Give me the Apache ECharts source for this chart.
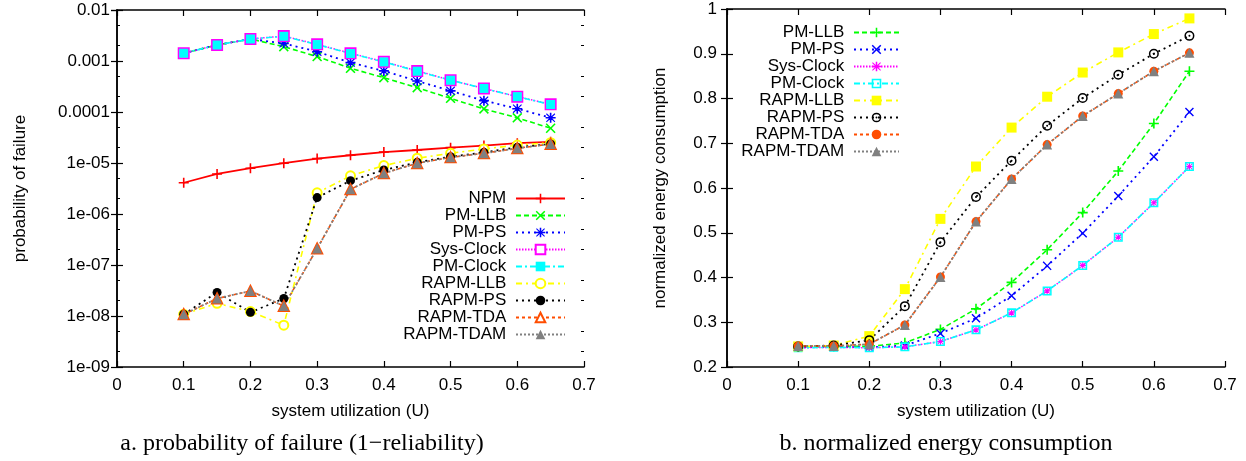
<!DOCTYPE html>
<html><head><meta charset="utf-8">
<script src="https://cdn.jsdelivr.net/npm/echarts@6/dist/echarts.min.js"></script>
<style>html,body{margin:0;padding:0;background:#fff}#c{width:1246px;height:461px}</style>
</head><body><div id="c"></div>
<script>
// ---------- data ----------
const util = [0.1, 0.15, 0.2, 0.25, 0.3, 0.35, 0.4, 0.45, 0.5, 0.55, 0.6, 0.65];
const xTickLabels = ['0', '0.1', '0.2', '0.3', '0.4', '0.5', '0.6', '0.7'];
const failTickLabels = ['1e-09', '1e-08', '1e-07', '1e-06', '1e-05', '0.0001', '0.001', '0.01'];
const energyTickLabels = ['0.2', '0.3', '0.4', '0.5', '0.6', '0.7', '0.8', '0.9', '1'];

// a. probability of failure
const failNPM      = [4.1e-6, 6.1e-6, 7.9e-6, 9.9e-6, 1.22e-5, 1.42e-5, 1.64e-5, 1.8e-5, 2.0e-5, 2.2e-5, 2.45e-5, 2.6e-5];
const failPMLLB    = [1.42e-3, 2.06e-3, 2.7e-3, 1.91e-3, 1.22e-3, 7.2e-4, 4.7e-4, 3.0e-4, 1.85e-4, 1.15e-4, 7.7e-5, 4.8e-5];
const failPMPS     = [1.42e-3, 2.06e-3, 2.7e-3, 2.22e-3, 1.52e-3, 9.3e-4, 6.4e-4, 4.06e-4, 2.6e-4, 1.67e-4, 1.16e-4, 7.7e-5];
const failSysClock = [1.42e-3, 2.06e-3, 2.7e-3, 3.09e-3, 2.12e-3, 1.42e-3, 9.7e-4, 6.4e-4, 4.2e-4, 2.9e-4, 2.0e-4, 1.42e-4];
const failPMClock  = [1.42e-3, 2.06e-3, 2.7e-3, 3.05e-3, 2.1e-3, 1.4e-3, 9.6e-4, 6.3e-4, 4.2e-4, 2.9e-4, 2.0e-4, 1.4e-4];
const failRAPMLLB  = [1.08e-8, 1.77e-8, 1.22e-8, 6.6e-9, 2.6e-6, 5.6e-6, 8.9e-6, 1.24e-5, 1.55e-5, 1.88e-5, 2.25e-5, 2.5e-5];
const failRAPMPS   = [1.08e-8, 2.9e-8, 1.18e-8, 2.2e-8, 2.1e-6, 4.5e-6, 7.3e-6, 1.03e-5, 1.33e-5, 1.62e-5, 2.03e-5, 2.36e-5];
const failRAPMTDA  = [1.08e-8, 2.2e-8, 3.1e-8, 1.57e-8, 2.1e-7, 3.05e-6, 6.3e-6, 9.9e-6, 1.29e-5, 1.55e-5, 1.94e-5, 2.36e-5];
const failRAPMTDAM = [1.08e-8, 2.2e-8, 3.1e-8, 1.57e-8, 2.1e-7, 3.05e-6, 6.3e-6, 9.9e-6, 1.29e-5, 1.55e-5, 1.94e-5, 2.36e-5];

// b. normalized energy consumption
const enPMLLB    = [0.245, 0.246, 0.246, 0.254, 0.284, 0.330, 0.389, 0.462, 0.545, 0.638, 0.744, 0.861];
const enPMPS     = [0.244, 0.245, 0.244, 0.248, 0.275, 0.309, 0.359, 0.426, 0.499, 0.582, 0.670, 0.770];
const enSysClock = [0.243, 0.244, 0.243, 0.245, 0.257, 0.283, 0.321, 0.370, 0.427, 0.490, 0.567, 0.648];
const enPMClock  = [0.243, 0.244, 0.243, 0.245, 0.257, 0.283, 0.321, 0.370, 0.427, 0.490, 0.567, 0.648];
const enRAPMLLB  = [0.246, 0.248, 0.269, 0.374, 0.531, 0.648, 0.735, 0.804, 0.858, 0.903, 0.944, 0.979];
const enRAPMPS   = [0.246, 0.248, 0.260, 0.336, 0.479, 0.580, 0.661, 0.739, 0.801, 0.853, 0.900, 0.940];
const enRAPMTDA  = [0.247, 0.247, 0.251, 0.294, 0.401, 0.525, 0.620, 0.697, 0.761, 0.811, 0.861, 0.902];
const enRAPMTDAM = [0.247, 0.247, 0.251, 0.294, 0.401, 0.525, 0.620, 0.697, 0.761, 0.811, 0.861, 0.902];

// ---------- styling ----------
const FONT = 'Liberation Sans';
const FS = 17;
const ZW = '\u200b'; // suffix to keep right-chart series distinct
const PLUS = 'path://M4.2,0H5.8V4.2H10V5.8H5.8V10H4.2V5.8H0V4.2H4.2Z';
const CROSS = 'path://M1.1,0L5,3.9L8.9,0L10,1.1L6.1,5L10,8.9L8.9,10L5,6.1L1.1,10L0,8.9L3.9,5L0,1.1Z';
const STAR = 'path://M4.2,0H5.8V4.2H10V5.8H5.8V10H4.2V5.8H0V4.2H4.2Z M1.1,0.5L5,4.2L8.9,0.5L9.6,1.4L6.0,5L9.6,8.6L8.9,9.5L5,5.8L1.1,9.5L0.4,8.6L4,5L0.4,1.4Z';
const RING = 'path://M0,5A5,5 0 1,1 10,5A5,5 0 1,1 0,5Z M1.5,5A3.5,3.5 0 1,0 8.5,5A3.5,3.5 0 1,0 1.5,5Z M4,5A1,1 0 1,1 6,5A1,1 0 1,1 4,5Z';
const HOLLOWSQ = 'path://M0,0H10V10H0Z M1.7,1.7V8.3H8.3V1.7Z';

function mk(name, vals, gi, color, dash, width, symbol, size, empty) {
  return {
    type: 'line', name: name, xAxisIndex: gi * 2, yAxisIndex: gi === 0 ? 0 : 4,
    data: util.map((u, i) => [u, vals[i]]),
    symbol: symbol, symbolSize: size, showSymbol: true, showAllSymbol: true,
    lineStyle: { color: color, width: width, type: dash },
    itemStyle: empty ? { color: color, borderColor: color, borderWidth: 1.5 } : { color: color, borderWidth: 0 },
    emphasis: { disabled: true }, silent: true, animation: false
  };
}

const RED = '#ff0000', GREEN = '#00ff00', BLUE = '#0000ff', MAG = '#ff00ff', CYAN = '#00ffff',
      YEL = '#ffff00', BLK = '#000000', ORG = '#ff4d00', GRY = '#808080';
const D_LLB = [5, 3], D_PS = [2, 4], D_SYS = [1.5, 1.5], D_CLK = [6, 3, 2, 3], D_RLLB = [6, 4, 2, 4],
      D_RPS = [2, 4], D_TDA = [3, 3], D_TDAM = [2, 2];

const leftSeries = [
  mk('NPM', failNPM, 0, RED, 'solid', 1.8, PLUS, 10, false),
  mk('PM-LLB', failPMLLB, 0, GREEN, D_LLB, 1.6, CROSS, 10, false),
  mk('PM-PS', failPMPS, 0, BLUE, D_PS, 1.8, STAR, 10, false),
  mk('Sys-Clock', failSysClock, 0, MAG, D_SYS, 1.5, 'emptyRect', 10, true),
  mk('PM-Clock', failPMClock, 0, CYAN, D_CLK, 1.6, 'rect', 9, false),
  mk('RAPM-LLB', failRAPMLLB, 0, YEL, D_RLLB, 1.6, 'emptyCircle', 9, true),
  mk('RAPM-PS', failRAPMPS, 0, BLK, D_RPS, 1.8, 'circle', 9, false),
  mk('RAPM-TDA', failRAPMTDA, 0, ORG, D_TDA, 1.6, 'emptyTriangle', 10, true),
  mk('RAPM-TDAM', failRAPMTDAM, 0, GRY, D_TDAM, 1.8, 'triangle', 10, false)
];
const rightSeries = [
  mk('PM-LLB' + ZW, enPMLLB, 1, GREEN, D_LLB, 1.6, PLUS, 10, false),
  mk('PM-PS' + ZW, enPMPS, 1, BLUE, D_PS, 1.8, CROSS, 9, false),
  mk('Sys-Clock' + ZW, enSysClock, 1, MAG, D_SYS, 1.5, STAR, 7, false),
  mk('PM-Clock' + ZW, enPMClock, 1, CYAN, D_CLK, 1.6, HOLLOWSQ, 9, false),
  mk('RAPM-LLB' + ZW, enRAPMLLB, 1, YEL, D_RLLB, 1.6, 'rect', 10, false),
  mk('RAPM-PS' + ZW, enRAPMPS, 1, BLK, D_RPS, 1.8, RING, 10, false),
  mk('RAPM-TDA' + ZW, enRAPMTDA, 1, ORG, D_TDA, 1.6, 'circle', 9, false),
  mk('RAPM-TDAM' + ZW, enRAPMTDAM, 1, GRY, D_TDAM, 1.8, 'triangle', 10, false)
];

const axisLine = { show: true, lineStyle: { color: '#000', width: 1.5 } };
const lbl = { color: '#000', fontFamily: FONT, fontSize: FS };

function xAx(gi, pos) {
  return {
    type: 'value', gridIndex: gi, position: pos, min: 0, max: 0.7, interval: 0.1,
    axisLine: axisLine, axisTick: { show: true, inside: true, length: 6, lineStyle: { color: '#000', width: 1.2 } },
    splitLine: { show: false },
    axisLabel: pos === 'bottom' ? Object.assign({ margin: 10, formatter: v => xTickLabels[Math.round(v * 10)] }, lbl) : { show: false },
    name: pos === 'bottom' ? 'system utilization (U)' : '', nameLocation: 'middle', nameGap: 36,
    nameTextStyle: lbl
  };
}

const minorLog = [];
for (let k = -9; k < -2; k++) { [2, 5].forEach(m => minorLog.push(k + Math.log10(m))); }

const option = {
  backgroundColor: '#fff',
  animation: false,
  grid: [
    { left: 117, top: 10, width: 467, height: 357, containLabel: false },
    { left: 727, top: 9, width: 498, height: 358, containLabel: false }
  ],
  xAxis: [xAx(0, 'bottom'), xAx(0, 'top'), xAx(1, 'bottom'), xAx(1, 'top')],
  yAxis: [
    { type: 'log', logBase: 10, gridIndex: 0, position: 'left', min: 1e-9, max: 0.01, splitNumber: 7,
      axisLine: axisLine, splitLine: { show: false },
      axisTick: { show: true, inside: true, length: 6, lineStyle: { color: '#000', width: 1.2 } },
      axisLabel: Object.assign({ margin: 7, formatter: v => failTickLabels[Math.round(Math.log10(v)) + 9] }, lbl),
      name: 'probability of failure', nameLocation: 'middle', nameRotate: 90, nameGap: 88, nameTextStyle: lbl },
    { type: 'log', logBase: 10, gridIndex: 0, position: 'right', min: 1e-9, max: 0.01, splitNumber: 7,
      axisLine: axisLine, splitLine: { show: false },
      axisTick: { show: true, inside: true, length: 6, lineStyle: { color: '#000', width: 1.2 } },
      axisLabel: { show: false } },
    { type: 'value', gridIndex: 0, position: 'left', min: -9, max: -2,
      axisLine: { show: false }, splitLine: { show: false }, axisLabel: { show: false },
      axisTick: { show: true, inside: true, length: 3, customValues: minorLog, lineStyle: { color: '#000', width: 1 } } },
    { type: 'value', gridIndex: 0, position: 'right', min: -9, max: -2,
      axisLine: { show: false }, splitLine: { show: false }, axisLabel: { show: false },
      axisTick: { show: true, inside: true, length: 3, customValues: minorLog, lineStyle: { color: '#000', width: 1 } } },
    { type: 'value', gridIndex: 1, position: 'left', min: 0.2, max: 1, interval: 0.1,
      axisLine: axisLine, splitLine: { show: false },
      axisTick: { show: true, inside: true, length: 6, lineStyle: { color: '#000', width: 1.2 } },
      axisLabel: Object.assign({ margin: 10, formatter: v => energyTickLabels[Math.round((v - 0.2) * 10)] }, lbl),
      name: 'normalized energy consumption', nameLocation: 'middle', nameRotate: 90, nameGap: 58, nameTextStyle: lbl },
    { type: 'value', gridIndex: 1, position: 'right', min: 0.2, max: 1, interval: 0.1,
      axisLine: axisLine, splitLine: { show: false },
      axisTick: { show: true, inside: true, length: 6, lineStyle: { color: '#000', width: 1.2 } },
      axisLabel: { show: false } }
  ],
  legend: [
    { data: leftSeries.map(s => s.name), orient: 'vertical', align: 'right', right: 680, top: 190,
      itemWidth: 49, itemHeight: 12, itemGap: 0, padding: 0, selectedMode: false,
      textStyle: { color: '#000', fontFamily: FONT, fontSize: FS, lineHeight: 17 },
      formatter: n => n + ' ' },
    { data: rightSeries.map(s => s.name), orient: 'vertical', align: 'right', right: 346, top: 24,
      itemWidth: 45, itemHeight: 12, itemGap: 0, padding: 0, selectedMode: false,
      textStyle: { color: '#000', fontFamily: FONT, fontSize: FS, lineHeight: 17 },
      formatter: n => n.replace(ZW, '') + ' ' }
  ],
  graphic: [
    { type: 'text', x: 302, y: 444, style: { text: 'a. probability of failure (1\u2212reliability)', fontFamily: 'Liberation Serif', fontSize: 24, fill: '#000', align: 'center', verticalAlign: 'middle' } },
    { type: 'text', x: 946, y: 444, style: { text: 'b. normalized energy consumption', fontFamily: 'Liberation Serif', fontSize: 24, fill: '#000', align: 'center', verticalAlign: 'middle' } }
  ],
  series: leftSeries.concat(rightSeries)
};

const chart = echarts.init(document.getElementById('c'), null, { renderer: 'canvas' });
chart.setOption(option);
</script>
</body></html>
